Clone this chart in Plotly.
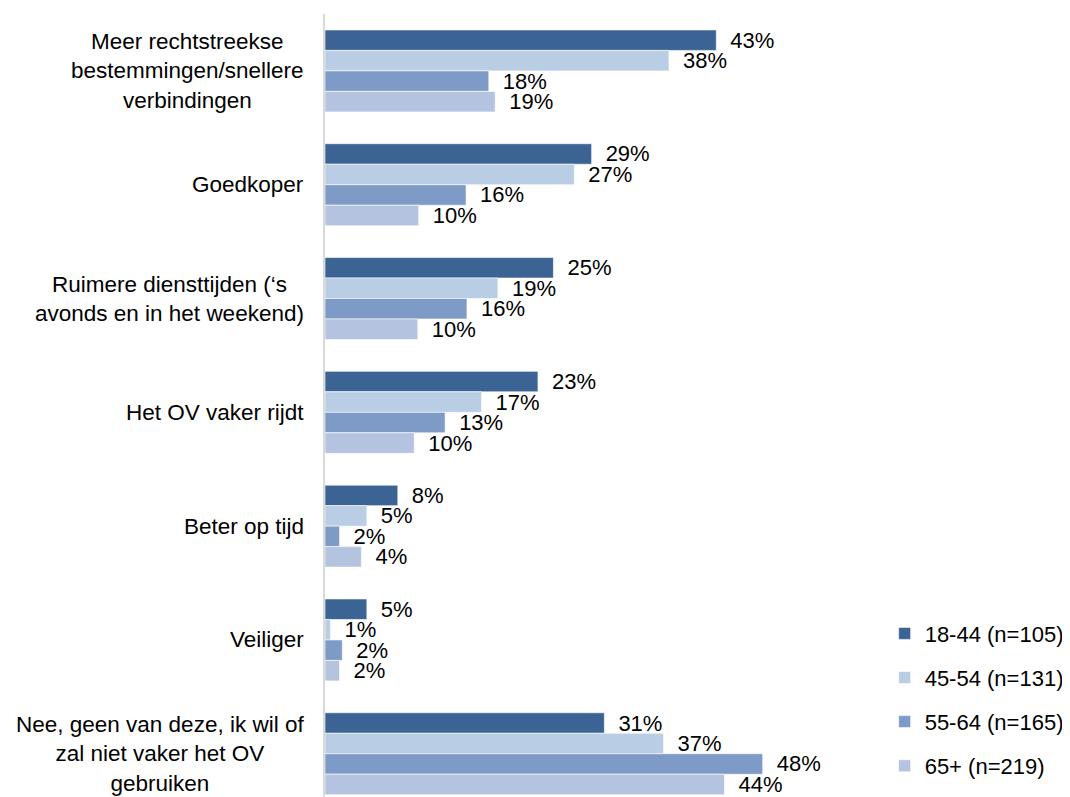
import plotly.graph_objects as go

categories = [
    "Meer rechtstreekse<br>bestemmingen/snellere<br>verbindingen",
    "Goedkoper",
    "Ruimere diensttijden (‘s<br>avonds en in het weekend)",
    "Het OV vaker rijdt",
    "Beter op tijd",
    "Veiliger",
    "Nee, geen van deze, ik wil of<br>zal niet vaker het OV<br>gebruiken",
]
series_names = ["18-44 (n=105)", "45-54 (n=131)", "55-64 (n=165)", "65+ (n=219)"]
s_18_44 = [43.0, 29.3, 25.1, 23.4, 8.0, 4.6, 30.7]
s_45_54 = [37.8, 27.4, 19.0, 17.2, 4.6, 0.6, 37.2]
s_55_64 = [18.0, 15.5, 15.6, 13.2, 1.6, 1.9, 48.1]
s_65_plus = [18.7, 10.3, 10.2, 9.8, 4.0, 1.6, 43.9]
colors = ["#3B6494", "#B9CDE5", "#7E9BC8", "#B4C3DF"]

FONT = "Liberation Sans, Arial, sans-serif"
FS = 22
FS_CAT = 22.5

fig = go.Figure()
idx = list(range(len(categories)))
for i, (name, vals) in enumerate(zip(series_names, [s_18_44, s_45_54, s_55_64, s_65_plus])):
    fig.add_trace(go.Bar(
        y=idx, x=vals, name=name, orientation="h",
        marker=dict(color=colors[i], line=dict(color="white", width=0.6)),
        texttemplate="\u2002%{x:.0f}%", textposition="outside",
        constraintext="none", cliponaxis=False,
        textfont=dict(family=FONT, size=FS, color="#000000"),
        legendgroup=f"g{i}",
    ))

for j, c in enumerate(categories):
    fig.add_annotation(
        x=0, xref="paper", y=j, yref="y", text=c, showarrow=False,
        xanchor="right", yanchor="middle", align="center", xshift=-19,
        font=dict(family=FONT, size=FS_CAT, color="#000000"),
    )

fig.update_layout(
    width=1062, height=789,
    margin=dict(l=317, r=290, t=6, b=0, autoexpand=False),
    paper_bgcolor="white", plot_bgcolor="white",
    barmode="group", bargap=0.28, bargroupgap=0,
    font=dict(family=FONT, size=FS, color="#000000"),
    showlegend=True,
    legend=dict(
        x=1.230, xanchor="left", y=0.2355, yanchor="top",
        traceorder="grouped", tracegroupgap=12.5,
        font=dict(family=FONT, size=FS, color="#000000"),
        bgcolor="rgba(0,0,0,0)",
    ),
    xaxis=dict(range=[0, 50], showgrid=False, zeroline=False, showticklabels=False,
               showline=False, ticks=""),
    yaxis=dict(range=[6.38, -0.5], showgrid=False, zeroline=False, showticklabels=False,
               showline=True, linecolor="#D9D9D9", linewidth=2, ticks="",
               tickmode="array", tickvals=idx),
)

fig.write_html("out.html")
